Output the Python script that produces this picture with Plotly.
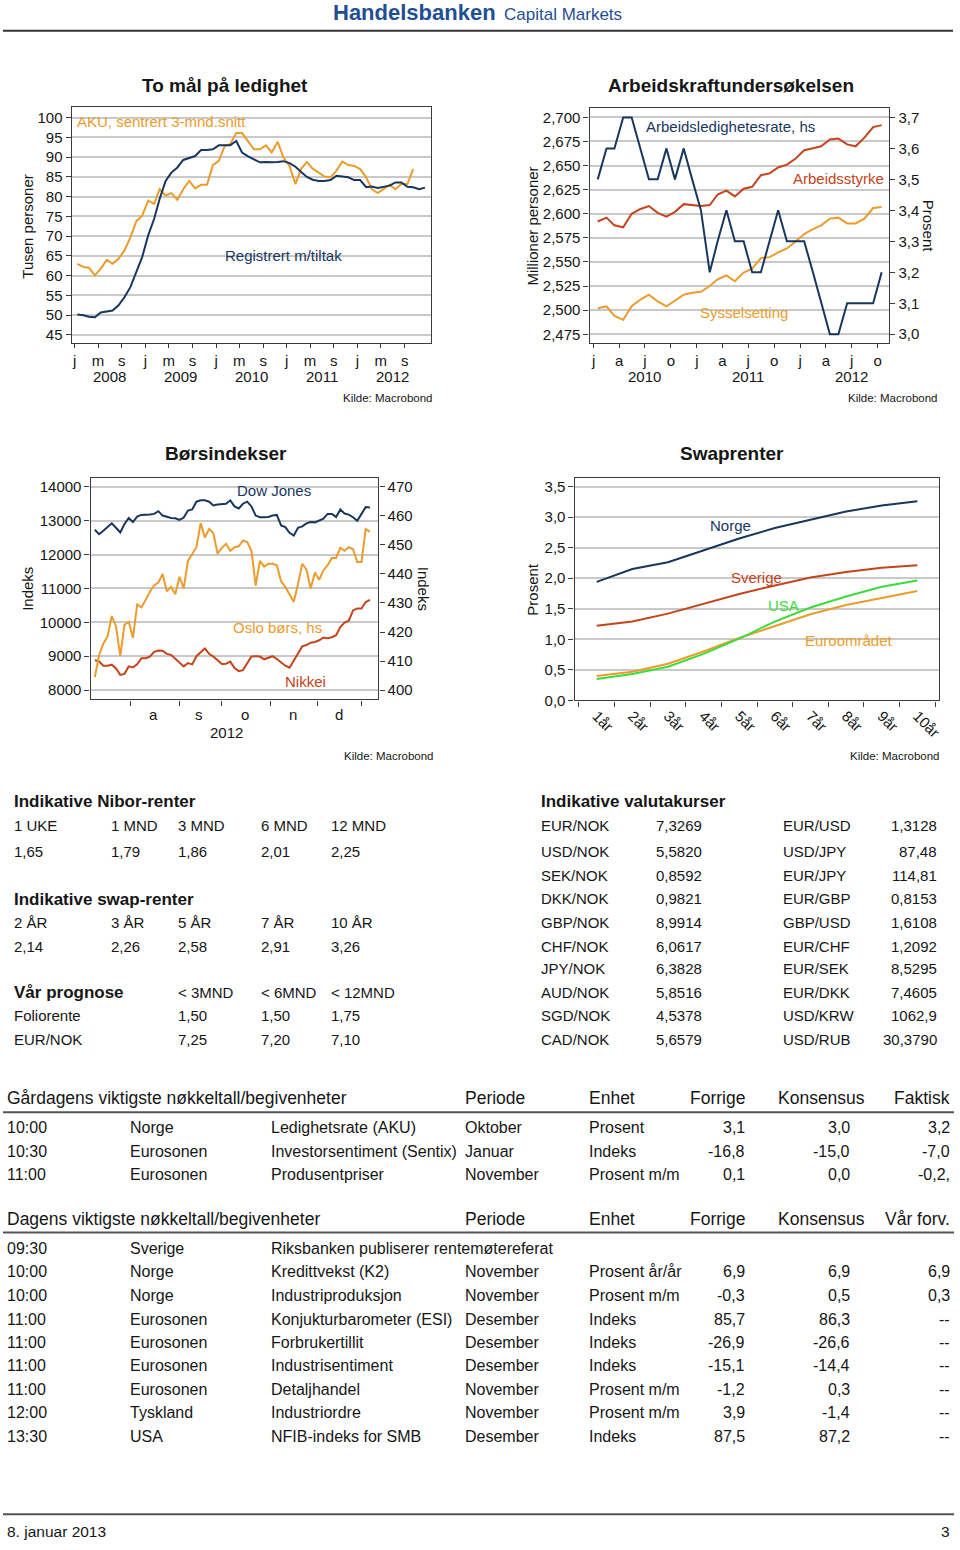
import pandas as pd
import plotly.graph_objects as go

# ---------------- data: To mål på ledighet (tusen personer, monthly from Jan 2008) ----------------
reg_tiltak = [50.2, 50.0, 49.6, 49.5, 50.7, 50.9, 51.2, 52.5, 54.6, 57.1, 60.9, 64.7,
              70.2, 74.4, 79.4, 84.0, 86.1, 87.4, 89.3, 89.9, 90.3, 91.8, 91.8, 92.0,
              93.0, 93.0, 93.0, 94.1, 91.2, 90.2, 89.5, 88.7, 88.8, 88.7, 88.8, 89.0,
              88.5, 87.6, 86.3, 85.0, 84.3, 84.0, 84.0, 84.2, 85.3, 85.1, 84.9, 84.2,
              84.2, 82.4, 82.6, 82.2, 82.5, 82.8, 83.6, 83.6, 82.5, 82.4, 81.9, 82.3]
aku_3mnd = [63.0, 62.2, 62.0, 60.1, 61.8, 64.0, 63.0, 64.3, 66.4, 69.7, 73.8, 75.2,
            79.0, 78.2, 81.9, 80.3, 80.9, 79.2, 81.9, 84.0, 82.1, 83.0, 83.0, 88.0,
            89.1, 92.9, 93.3, 96.1, 96.1, 94.1, 92.0, 92.0, 93.0, 91.2, 93.9, 89.9,
            87.8, 83.2, 87.0, 88.8, 87.1, 86.1, 85.1, 84.9, 86.6, 88.9, 88.0, 87.8,
            87.0, 84.9, 81.9, 80.9, 81.9, 83.0, 81.9, 83.2, 83.2, 87.0]
c1_ticktext = ["j", "m", "s"]
c1_years = ["2008", "2009", "2010", "2011", "2012"]

# ---------------- data: Arbeidskraftundersøkelsen (monthly from Jan 2010) ----------------
aku_rate = [3.5, 3.6, 3.6, 3.7, 3.7, 3.6, 3.5, 3.5, 3.6, 3.5, 3.6, 3.5,
            3.4, 3.2, 3.3, 3.4, 3.3, 3.3, 3.2, 3.2, 3.3, 3.4, 3.3, 3.3,
            3.3, 3.2, 3.1, 3.0, 3.0, 3.1, 3.1, 3.1, 3.1, 3.2]
arbeidsstyrke = [2.592, 2.596, 2.588, 2.586, 2.600, 2.605, 2.608, 2.601, 2.597, 2.602, 2.610, 2.609,
                 2.608, 2.609, 2.620, 2.624, 2.618, 2.626, 2.628, 2.640, 2.642, 2.648, 2.651, 2.657,
                 2.666, 2.668, 2.670, 2.677, 2.678, 2.672, 2.670, 2.679, 2.690, 2.692]
sysselsetting = [2.502, 2.504, 2.494, 2.490, 2.504, 2.511, 2.516, 2.509, 2.504, 2.510, 2.516, 2.518,
                 2.519, 2.525, 2.532, 2.536, 2.530, 2.539, 2.543, 2.554, 2.555, 2.560, 2.564, 2.571,
                 2.579, 2.584, 2.588, 2.595, 2.596, 2.590, 2.590, 2.595, 2.606, 2.607]
c2_ticktext = ["j", "a", "j", "o"]
c2_years = ["2010", "2011", "2012"]

# ---------------- data: Børsindekser (every 2nd business day, 9 Jul 2012 - 7 Jan 2013) ----------------
dow_jones = [12730, 12600, 12700, 12800, 12920, 12790, 12650, 12900, 13080, 12960, 13120, 13170,
             13170, 13180, 13200, 13280, 13150, 13110, 13080, 13070, 13020, 13090, 13300, 13330,
             13560, 13600, 13600, 13560, 13450, 13480, 13490, 13500, 13600, 13420, 13360, 13500,
             13560, 13420, 13150, 13100, 13100, 13110, 13150, 13170, 12860, 12810, 12640, 12560,
             12790, 12830, 12920, 12960, 12950, 13000, 13060, 13200, 13200, 13110, 13330, 13210,
             13180, 13100, 13000, 13200, 13400, 13390]
oslo_bors = [404.5, 412.0, 416.0, 418.5, 425.5, 422.0, 411.8, 422.5, 423.5, 418.0, 429.5, 428.5,
             431.0, 433.9, 436.0, 437.0, 440.0, 434.0, 435.5, 433.0, 439.0, 435.0, 444.5, 447.0,
             449.2, 457.5, 452.5, 455.5, 454.0, 447.0, 449.0, 450.4, 448.0, 449.2, 449.5, 451.5,
             451.0, 448.0, 436.0, 444.5, 442.5, 443.5, 443.5, 443.0, 437.5, 435.5, 433.0, 430.4,
             436.5, 443.5, 441.5, 435.0, 440.5, 438.0, 441.2, 443.0, 445.5, 445.5, 449.0, 448.0,
             449.2, 448.5, 444.1, 444.1, 455.5, 454.5]
nikkei = [8880, 8850, 8720, 8720, 8750, 8640, 8450, 8480, 8700, 8670, 8760, 8940,
          8940, 8990, 9130, 9170, 9160, 9070, 9040, 8920, 8800, 8700, 8800, 8760,
          9000, 9110, 9230, 9070, 8990, 8880, 8770, 8780, 8840, 8650, 8560, 8590,
          8780, 8990, 9000, 8990, 8910, 8950, 9000, 8920, 8830, 8720, 8660, 8850,
          9080, 9290, 9330, 9400, 9420, 9470, 9550, 9530, 9560, 9620, 9860, 9990,
          10050, 10350, 10410, 10410, 10600, 10660]
c3_month_letters = ["a", "s", "o", "n", "d"]

# ---------------- data: Swaprenter ----------------
swap_tenors = ["1år", "2år", "3år", "4år", "5år", "6år", "7år", "8år", "9år", "10år"]
swap_norge = [1.94, 2.15, 2.26, 2.46, 2.65, 2.82, 2.96, 3.09, 3.19, 3.26]
swap_sverige = [1.22, 1.29, 1.42, 1.58, 1.74, 1.88, 2.01, 2.10, 2.17, 2.21]
swap_usa = [0.35, 0.43, 0.55, 0.76, 1.01, 1.29, 1.52, 1.70, 1.86, 1.96]
swap_euro = [0.40, 0.47, 0.60, 0.80, 1.02, 1.22, 1.41, 1.56, 1.68, 1.79]

# ---------------- data: tables ----------------
nibor_labels = ["1 UKE", "1 MND", "3 MND", "6 MND", "12 MND"]
nibor_values = ["1,65", "1,79", "1,86", "2,01", "2,25"]
swap_labels = ["2 ÅR", "3 ÅR", "5 ÅR", "7 ÅR", "10 ÅR"]
swap_values = ["2,14", "2,26", "2,58", "2,91", "3,26"]
prog_cols = ["< 3MND", "< 6MND", "< 12MND"]
folio_values = ["1,50", "1,50", "1,75"]
eurnok_prog_values = ["7,25", "7,20", "7,10"]

fx_left_pairs = ["EUR/NOK", "USD/NOK", "SEK/NOK", "DKK/NOK", "GBP/NOK", "CHF/NOK", "JPY/NOK", "AUD/NOK", "SGD/NOK", "CAD/NOK"]
fx_left_values = ["7,3269", "5,5820", "0,8592", "0,9821", "8,9914", "6,0617", "6,3828", "5,8516", "4,5378", "5,6579"]
fx_right_pairs = ["EUR/USD", "USD/JPY", "EUR/JPY", "EUR/GBP", "GBP/USD", "EUR/CHF", "EUR/SEK", "EUR/DKK", "USD/KRW", "USD/RUB"]
fx_right_values = ["1,3128", "87,48", "114,81", "0,8153", "1,6108", "1,2092", "8,5295", "7,4605", "1062,9", "30,3790"]

yday_time = ["10:00", "10:30", "11:00"]
yday_country = ["Norge", "Eurosonen", "Eurosonen"]
yday_event = ["Ledighetsrate (AKU)", "Investorsentiment (Sentix)", "Produsentpriser"]
yday_period = ["Oktober", "Januar", "November"]
yday_unit = ["Prosent", "Indeks", "Prosent m/m"]
yday_prev = ["3,1", "-16,8", "0,1"]
yday_cons = ["3,0", "-15,0", "0,0"]
yday_actual = ["3,2", "-7,0", "-0,2,"]

today_time = ["09:30", "10:00", "10:00", "11:00", "11:00", "11:00", "11:00", "12:00", "13:30"]
today_country = ["Sverige", "Norge", "Norge", "Eurosonen", "Eurosonen", "Eurosonen", "Eurosonen", "Tyskland", "USA"]
today_event = ["Riksbanken publiserer rentemøtereferat", "Kredittvekst (K2)", "Industriproduksjon",
               "Konjukturbarometer (ESI)", "Forbrukertillit", "Industrisentiment", "Detaljhandel",
               "Industriordre", "NFIB-indeks for SMB"]
today_period = ["", "November", "November", "Desember", "Desember", "Desember", "November", "November", "Desember"]
today_unit = ["", "Prosent år/år", "Prosent m/m", "Indeks", "Indeks", "Indeks", "Prosent m/m", "Prosent m/m", "Indeks"]
today_prev = ["", "6,9", "-0,3", "85,7", "-26,9", "-15,1", "-1,2", "3,9", "87,5"]
today_cons = ["", "6,9", "0,5", "86,3", "-26,6", "-14,4", "0,3", "-1,4", "87,2"]
today_forecast = ["", "6,9", "0,3", "--", "--", "--", "--", "--", "--"]

# ---------------- styling ----------------
FONT = "Liberation Sans, Arial, sans-serif"
NAVY = "#17375e"
ORANGE = "#ec9c2c"
RED = "#c4441b"
GREEN = "#3cdc3c"
GRID = "#c9c9c9"
AXIS = "#3c3c3c"
TXT = "#161616"
LOGO = "#1f4f96"
W, H = 960, 1550


def px(x):
    return x / W


def py(y):
    return 1 - y / H


ann = []


def T(x, y, text, size=15, color=TXT, anchor="left", bold=False, angle=0, xref="paper"):
    ann.append(dict(
        x=px(x) if xref == "paper" else x, y=py(y), xref=xref, yref="paper",
        text=f"<b>{text}</b>" if bold else text, showarrow=False,
        xanchor=anchor, yanchor="middle", textangle=angle, borderpad=0,
        font=dict(family=FONT, size=size, color=color)))


months_08 = pd.date_range("2008-01-01", periods=len(reg_tiltak), freq="MS") + pd.Timedelta(days=14)
months_10 = pd.date_range("2010-01-01", periods=len(aku_rate), freq="MS") + pd.Timedelta(days=14)
bdays = pd.bdate_range("2012-07-09", "2013-01-07")[::2]

fig = go.Figure()


def line(x, y, color, xa, ya):
    fig.add_trace(go.Scatter(x=list(x), y=y, mode="lines", line=dict(color=color, width=2),
                             xaxis=xa, yaxis=ya, showlegend=False, hoverinfo="skip"))


# chart 1
line(months_08[:len(aku_3mnd)], aku_3mnd, ORANGE, "x", "y")
line(months_08, reg_tiltak, NAVY, "x", "y")
# chart 2
line(months_10, sysselsetting, ORANGE, "x2", "y2")
line(months_10, arbeidsstyrke, RED, "x2", "y2")
line(months_10, aku_rate, NAVY, "x2", "y3")
# chart 3
line(bdays, nikkei, RED, "x3", "y4")
line(bdays, dow_jones, NAVY, "x3", "y4")
line(bdays, oslo_bors, ORANGE, "x3", "y5")
# chart 4
line(swap_tenors, swap_euro, ORANGE, "x4", "y6")
line(swap_tenors, swap_usa, GREEN, "x4", "y6")
line(swap_tenors, swap_sverige, RED, "x4", "y6")
line(swap_tenors, swap_norge, NAVY, "x4", "y6")

tickfont = dict(family=FONT, size=15, color=TXT)
base_ax = dict(showline=True, linecolor=AXIS, linewidth=1.3, ticks="outside", ticklen=5,
               tickcolor=AXIS, tickfont=tickfont, zeroline=False)


def ydom(top, bottom):
    return [py(bottom), py(top)]


def xdom(left, right):
    return [px(left), px(right)]


c1_tickvals = [f"{yr}-{m:02d}-01" for yr in range(2008, 2013) for m in (1, 5, 9)]
c2_tickvals = [f"{yr}-{m:02d}-01" for yr in (2010, 2011, 2012) for m in (1, 4, 7, 10)]
c3_tickvals = ["2012-08-01", "2012-09-03", "2012-10-01", "2012-11-01", "2012-12-03", "2013-01-01"]

layout = dict(
    width=W, height=H, margin=dict(l=0, r=0, t=0, b=0),
    paper_bgcolor="white", plot_bgcolor="white", separators=", ",
    font=dict(family=FONT, color=TXT),
    # chart 1
    xaxis=dict(base_ax, domain=xdom(72, 433), anchor="y", type="date", mirror=True,
               range=["2007-12-17", "2013-01-16"], tickmode="array", ticklen=4,
               tickvals=c1_tickvals, ticktext=c1_ticktext * 5, showgrid=False),
    yaxis=dict(base_ax, domain=ydom(108, 345), anchor="x", mirror=True, range=[42.9, 102.6],
               tickmode="array", tickvals=list(range(45, 101, 5)), showgrid=True,
               gridcolor=GRID, gridwidth=1.5),
    # chart 2
    xaxis2=dict(base_ax, domain=xdom(592, 893), anchor="y2", type="date", mirror=True,
                range=["2009-12-17", "2012-11-11"], tickmode="array", ticklen=4,
                tickvals=c2_tickvals, ticktext=c2_ticktext * 3, showgrid=False),
    yaxis2=dict(base_ax, domain=ydom(109, 345), anchor="x2", range=[2.4657, 2.7093],
                tickmode="array", tickvals=[2.475 + 0.025 * i for i in range(10)],
                tickformat=".3f", showgrid=True, gridcolor=GRID, gridwidth=1.5),
    yaxis3=dict(base_ax, overlaying="y2", side="right", anchor="x2", range=[2.971, 3.729],
                tickmode="array", tickvals=[3.0 + 0.1 * i for i in range(8)],
                tickformat=".1f", showgrid=False),
    # chart 3
    xaxis3=dict(base_ax, domain=xdom(91, 380), anchor="y4", type="date", mirror=True,
                range=["2012-07-05", "2013-01-11"], tickmode="array",
                tickvals=c3_tickvals, ticktext=[""] * len(c3_tickvals), showgrid=False,
                rangebreaks=[dict(bounds=["sat", "mon"])]),
    yaxis4=dict(base_ax, domain=ydom(480, 703), anchor="x3", range=[7727, 14273],
                tickmode="array", tickvals=list(range(8000, 14001, 1000)), tickformat="d",
                showgrid=True, gridcolor=GRID, gridwidth=1.5),
    yaxis5=dict(base_ax, overlaying="y4", side="right", anchor="x3", range=[396.8, 473.2],
                tickmode="array", tickvals=list(range(400, 471, 10)), tickformat="d",
                showgrid=False),
    # chart 4
    xaxis4=dict(base_ax, domain=xdom(577, 943), anchor="y6", type="category", mirror=True,
                range=[-0.62, 9.61], tickson="boundaries", tickangle=45, showgrid=False),
    yaxis6=dict(base_ax, domain=ydom(480, 704), anchor="x4", mirror=True, range=[0, 3.647],
                tickmode="array", tickvals=[0.5 * i for i in range(8)], tickformat=".1f",
                showgrid=True, gridcolor=GRID, gridwidth=1.5),
)

# ---------------- header ----------------
T(333, 13, "Handelsbanken", size=22, color=LOGO, bold=True)
T(505, 15, "Capital Markets", size=17, color=LOGO)

# ---------------- chart texts ----------------
T(226, 86, "To mål på ledighet", size=19, bold=True, anchor="center")
T(734, 86, "Arbeidskraftundersøkelsen", size=19, bold=True, anchor="center")
T(227, 456, "Børsindekser", size=19, bold=True, anchor="center")
T(735, 456, "Swaprenter", size=19, bold=True, anchor="center")

T(76, 122, "AKU, sentrert 3-mnd.snitt", color=ORANGE)
T(225, 257, "Registrert m/tiltak", color=NAVY)
T(648, 127, "Arbeidsledighetesrate, hs", color=NAVY)
T(795, 179, "Arbeidsstyrke", color=RED)
T(702, 314, "Sysselsetting", color=ORANGE)
T(237, 493, "Dow Jones", color=NAVY)
T(233, 631, "Oslo børs, hs", color=ORANGE)
T(285, 685, "Nikkei", color=RED)
T(712, 528, "Norge", color=NAVY)
T(733, 580, "Sverige", color=RED)
T(770, 609, "USA", color=GREEN)
T(807, 644, "Euroområdet", color=ORANGE)

T(28, 227, "Tusen personer", angle=-90, anchor="center")
T(535, 227, "Millioner personer", angle=-90, anchor="center")
T(932, 227, "Prosent", angle=90, anchor="center")
T(28, 592, "Indeks", angle=-90, anchor="center")
T(425, 592, "Indeks", angle=90, anchor="center")
T(535, 592, "Prosent", angle=-90, anchor="center")

for yr in c1_years:
    ann.append(dict(x=f"{yr}-07-01", y=py(378), xref="x", yref="paper", text=yr, showarrow=False,
                    xanchor="center", yanchor="middle", borderpad=0, font=tickfont))
for yr in c2_years:
    ann.append(dict(x=f"{yr}-07-01", y=py(378), xref="x2", yref="paper", text=yr, showarrow=False,
                    xanchor="center", yanchor="middle", borderpad=0, font=tickfont))
for lx, letter in zip([154, 200, 246, 294, 340], c3_month_letters):
    T(lx, 718, letter, anchor="center")
T(227, 736, "2012", anchor="center")

for kx, ky in [(436, 400), (943, 400), (437, 760), (945, 760)]:
    T(kx, ky, "Kilde: Macrobond", size=11.5, anchor="right")

# ---------------- top-left tables ----------------
cols = [13, 110, 178, 261, 331]
T(13, 806, "Indikative Nibor-renter", size=17, bold=True)
for cx, lab, val in zip(cols, nibor_labels, nibor_values):
    T(cx, 830, lab)
    T(cx, 856, val)
T(13, 904, "Indikative swap-renter", size=17, bold=True)
for cx, lab, val in zip(cols, swap_labels, swap_values):
    T(cx, 927, lab)
    T(cx, 951, val)
T(13, 998, "Vår prognose", size=17, bold=True)
T(13, 1021, "Foliorente")
T(13, 1045, "EUR/NOK")
for cx, lab, v1, v2 in zip(cols[2:], prog_cols, folio_values, eurnok_prog_values):
    T(cx, 998, lab)
    T(cx, 1021, v1)
    T(cx, 1045, v2)

# ---------------- top-right table ----------------
T(542, 806, "Indikative valutakurser", size=17, bold=True)
fx_rows = [830, 856, 880, 903, 927, 951, 974, 998, 1021, 1045]
for ry, a, av, b, bv in zip(fx_rows, fx_left_pairs, fx_left_values, fx_right_pairs, fx_right_values):
    T(542, ry, a)
    T(658, ry, av)
    T(785, ry, b)
    T(942, ry, bv, anchor="right")

# ---------------- bottom tables ----------------
shapes = [
    dict(type="line", xref="paper", yref="paper", x0=px(3), x1=px(957), y0=py(31), y1=py(31),
         line=dict(color="#333333", width=2)),
    dict(type="line", xref="paper", yref="paper", x0=px(3), x1=px(958), y0=py(1118), y1=py(1118),
         line=dict(color="#555555", width=2)),
    dict(type="line", xref="paper", yref="paper", x0=px(3), x1=px(958), y0=py(1239), y1=py(1239),
         line=dict(color="#555555", width=2)),
    dict(type="line", xref="paper", yref="paper", x0=px(3), x1=px(958), y0=py(1522), y1=py(1522),
         line=dict(color="#555555", width=2)),
]

HS = 17.5
RS = 16


def table_header(y, title, last):
    T(6, y, title, size=HS)
    T(466, y, "Periode", size=HS)
    T(590, y, "Enhet", size=HS)
    T(749, y, "Forrige", size=HS, anchor="right")
    T(870, y, "Konsensus", size=HS, anchor="right")
    T(955, y, last, size=HS, anchor="right")


def table_rows(ys, tm, co, ev, pe, un, pr, cs, la):
    for r in range(len(ys)):
        y = ys[r]
        T(6, y, tm[r], size=RS)
        T(130, y, co[r], size=RS)
        T(271, y, ev[r], size=RS)
        if pe[r]:
            T(466, y, pe[r], size=RS)
        if un[r]:
            T(590, y, un[r], size=RS)
        if pr[r]:
            T(749, y, pr[r], size=RS, anchor="right")
        if cs[r]:
            T(855, y, cs[r], size=RS, anchor="right")
        if la[r]:
            T(955, y, la[r], size=RS, anchor="right")


table_header(1104, "Gårdagens viktigste nøkkeltall/begivenheter", "Faktisk")
table_rows([1133, 1157, 1181], yday_time, yday_country, yday_event, yday_period, yday_unit,
           yday_prev, yday_cons, yday_actual)
table_header(1225, "Dagens viktigste nøkkeltall/begivenheter", "Vår forv.")
table_rows([1255, 1278, 1302, 1326, 1349, 1373, 1397, 1420, 1444], today_time, today_country,
           today_event, today_period, today_unit, today_prev, today_cons, today_forecast)

T(6, 1539, "8. januar 2013", size=15.5)
T(955, 1539, "3", size=15.5, anchor="right")

layout["annotations"] = ann
layout["shapes"] = shapes
fig.update_layout(**layout)
fig.write_html("out.html")
